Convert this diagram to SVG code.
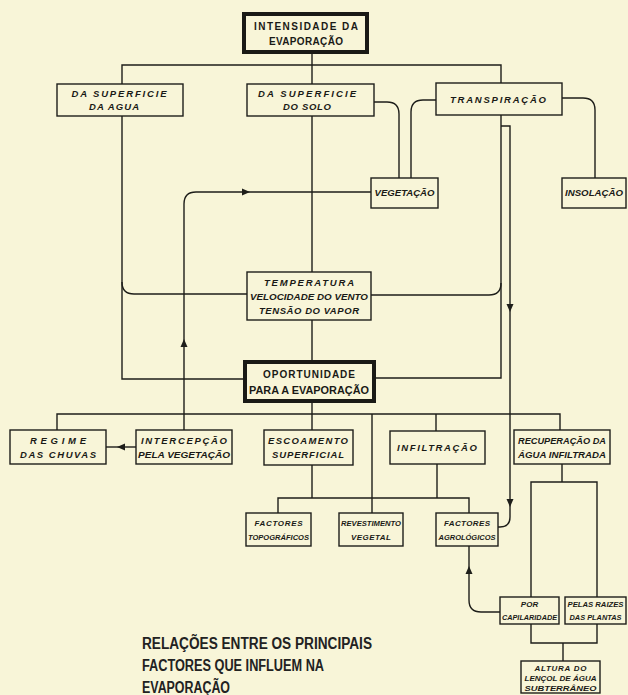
<svg xmlns="http://www.w3.org/2000/svg" xmlns:xlink="http://www.w3.org/1999/xlink" width="628" height="695" viewBox="0 0 628 695">
<style>
.bg{fill:#f8f5d8}
.box{fill:#f8f5d8;stroke:#1e1e1a;stroke-width:1.4}
.thick{fill:#f8f5d8;stroke:#1a1a16;stroke-width:4}
.ln{fill:none;stroke:#1e1e1a;stroke-width:1.4}
.ah{fill:#1e1e1a}
.t{font-family:"Liberation Sans",Arial,sans-serif;font-weight:bold;font-style:italic;font-size:9.5px;fill:#1a1a16;text-anchor:middle}
.s{font-size:8px}
.tb{font-family:"Liberation Sans",Arial,sans-serif;font-weight:bold;font-size:10px;fill:#1a1a16;text-anchor:middle}
.cap{font-family:"Liberation Sans",Arial,sans-serif;font-weight:bold;font-size:16px;fill:#222}
</style>
<defs>
<path id="ah" d="M0,0 L-8,-3.5 L-8,3.5 Z"/>
</defs>
<rect class="bg" x="0" y="0" width="628" height="695"/>

<g id="connectors">
<path class="ln" d="M312,53 V272"/>
<path class="ln" d="M312,320 V362"/>
<path class="ln" d="M312,401 V430"/>
<path class="ln" d="M122,84 V65 H501 V83"/>
<path class="ln" d="M122,116 V379 H245"/>
<path class="ln" d="M122,282 Q122,294 134,294 H247"/>
<path class="ln" d="M501,115 V378 H374"/>
<path class="ln" d="M501,283 Q501,295 489,295 H371"/>
<path class="ln" d="M374,102 H387 Q399,102 399,114 V178"/>
<path class="ln" d="M436,100 H423 Q411,100 411,112 V178"/>
<path class="ln" d="M562,98 H583 Q595,98 595,110 V178"/>
<path class="ln" d="M501,126 H510 V517 Q510,527 500,527 H498"/>
<path class="ln" d="M184,430 V204 Q184,192 196,192 H371"/>
<path class="ln" d="M136,447 H106"/>
<path class="ln" d="M57,430 V414 H560 V430"/>
<path class="ln" d="M372,414 V513"/>
<path class="ln" d="M436,414 V431"/>
<path class="ln" d="M312,465 V498"/>
<path class="ln" d="M437,464 V498"/>
<path class="ln" d="M278,513 V498 H469 V513"/>
<path class="ln" d="M500,612 H481 Q469,612 469,600 V546"/>
<path class="ln" d="M562,464 V482"/>
<path class="ln" d="M531,597 V482 H597 V597"/>
<path class="ln" d="M531,624 V643 H597 V624"/>
<path class="ln" d="M563,643 V661"/>
<use xlink:href="#ah" class="ah" transform="translate(250,192)"/>
<use xlink:href="#ah" class="ah" transform="translate(184,339) rotate(-90)"/>
<use xlink:href="#ah" class="ah" transform="translate(510,312) rotate(90)"/>
<use xlink:href="#ah" class="ah" transform="translate(117,447) rotate(180)"/>
<use xlink:href="#ah" class="ah" transform="translate(510,507) rotate(90)"/>
<use xlink:href="#ah" class="ah" transform="translate(469,566) rotate(-90)"/>
</g>

<g id="intensidade">
<rect class="thick" x="244" y="14" width="123" height="38"/>
<text class="tb" x="306" y="30" textLength="104" lengthAdjust="spacing">INTENSIDADE DA</text>
<text class="tb" x="306" y="45" textLength="74" lengthAdjust="spacing">EVAPORAÇÃO</text>
</g>
<g id="sup-agua">
<rect class="box" x="57" y="84" width="126" height="32"/>
<text class="t" x="119" y="97" textLength="95" lengthAdjust="spacing">DA SUPERFICIE</text>
<text class="t" x="114" y="110" textLength="50" lengthAdjust="spacing">DA AGUA</text>
</g>
<g id="sup-solo">
<rect class="box" x="247" y="84" width="127" height="32"/>
<text class="t" x="307" y="97" textLength="98" lengthAdjust="spacing">DA SUPERFICIE</text>
<text class="t" x="307" y="110" textLength="48" lengthAdjust="spacing">DO SOLO</text>
</g>
<g id="transpiracao">
<rect class="box" x="436" y="83" width="126" height="32"/>
<text class="t" x="498" y="103" textLength="96" lengthAdjust="spacing">TRANSPIRAÇÃO</text>
</g>
<g id="vegetacao">
<rect class="box" x="371" y="178" width="67" height="30"/>
<text class="t" x="404.5" y="196" textLength="60" lengthAdjust="spacingAndGlyphs">VEGETAÇÃO</text>
</g>
<g id="insolacao">
<rect class="box" x="562" y="178" width="64" height="30"/>
<text class="t" x="594" y="196" textLength="58" lengthAdjust="spacingAndGlyphs">INSOLAÇÃO</text>
</g>
<g id="temperatura">
<rect class="box" x="247" y="272" width="124" height="48"/>
<text class="t" x="309" y="286" textLength="90" lengthAdjust="spacing">TEMPERATURA</text>
<text class="t" x="309" y="300" textLength="118" lengthAdjust="spacingAndGlyphs">VELOCIDADE DO VENTO</text>
<text class="t" x="309" y="314" textLength="100" lengthAdjust="spacing">TENSÃO DO VAPOR</text>
</g>
<g id="oportunidade">
<rect class="thick" x="245" y="362" width="129" height="39"/>
<text class="tb" x="309" y="378" textLength="92" lengthAdjust="spacing">OPORTUNIDADE</text>
<text class="tb" x="309" y="394" textLength="120" lengthAdjust="spacingAndGlyphs">PARA A EVAPORAÇÃO</text>
</g>
<g id="regime">
<rect class="box" x="10" y="430" width="96" height="34"/>
<text class="t" x="58" y="444" textLength="56" lengthAdjust="spacing">REGIME</text>
<text class="t" x="58" y="458" textLength="76" lengthAdjust="spacing">DAS CHUVAS</text>
</g>
<g id="intercepcao">
<rect class="box" x="136" y="430" width="96" height="34"/>
<text class="t" x="184" y="444" textLength="86" lengthAdjust="spacing">INTERCEPÇÃO</text>
<text class="t" x="184" y="458" textLength="92" lengthAdjust="spacingAndGlyphs">PELA VEGETAÇÃO</text>
</g>
<g id="escoamento">
<rect class="box" x="264" y="430" width="89" height="35"/>
<text class="t" x="308" y="444" textLength="80" lengthAdjust="spacing">ESCOAMENTO</text>
<text class="t" x="308" y="458" textLength="72" lengthAdjust="spacing">SUPERFICIAL</text>
</g>
<g id="infiltracao">
<rect class="box" x="390" y="431" width="95" height="33"/>
<text class="t" x="437" y="451" textLength="80" lengthAdjust="spacing">INFILTRAÇÃO</text>
</g>
<g id="recuperacao">
<rect class="box" x="514" y="430" width="96" height="34"/>
<text class="t" x="562" y="444" textLength="88" lengthAdjust="spacingAndGlyphs">RECUPERAÇÃO DA</text>
<text class="t" x="562" y="458" textLength="88" lengthAdjust="spacingAndGlyphs">ÁGUA INFILTRADA</text>
</g>
<g id="topograficos">
<rect class="box" x="246" y="513" width="65" height="33"/>
<text class="t s" x="278.5" y="526" textLength="48" lengthAdjust="spacing">FACTORES</text>
<text class="t s" x="278.5" y="540" textLength="61" lengthAdjust="spacingAndGlyphs">TOPOGRÁFICOS</text>
</g>
<g id="revestimento">
<rect class="box" x="339" y="513" width="64" height="33"/>
<text class="t s" x="371" y="526" textLength="60" lengthAdjust="spacingAndGlyphs">REVESTIMENTO</text>
<text class="t s" x="371" y="540" textLength="40" lengthAdjust="spacing">VEGETAL</text>
</g>
<g id="agrologicos">
<rect class="box" x="436" y="513" width="62" height="33"/>
<text class="t s" x="467" y="526" textLength="46" lengthAdjust="spacing">FACTORES</text>
<text class="t s" x="467" y="540" textLength="57" lengthAdjust="spacingAndGlyphs">AGROLÓGICOS</text>
</g>
<g id="capilaridade">
<rect class="box" x="500" y="597" width="59" height="27"/>
<text class="t s" x="529.5" y="607">POR</text>
<text class="t s" x="529.5" y="620" textLength="55" lengthAdjust="spacingAndGlyphs">CAPILARIDADE</text>
</g>
<g id="raizes">
<rect class="box" x="565" y="597" width="61" height="27"/>
<text class="t s" x="595.5" y="607" textLength="56" lengthAdjust="spacingAndGlyphs">PELAS RAIZES</text>
<text class="t s" x="595.5" y="620" textLength="52" lengthAdjust="spacingAndGlyphs">DAS PLANTAS</text>
</g>
<g id="altura">
<rect class="box" x="521" y="661" width="79" height="32"/>
<text class="t s" x="560.5" y="671" textLength="52" lengthAdjust="spacing">ALTURA DO</text>
<text class="t s" x="560.5" y="681" textLength="72" lengthAdjust="spacingAndGlyphs">LENÇOL DE ÁGUA</text>
<text class="t s" x="560.5" y="691" textLength="72" lengthAdjust="spacingAndGlyphs">SUBTERRÂNEO</text>
</g>
<g id="caption">
<text class="cap" x="142" y="649" textLength="230" lengthAdjust="spacingAndGlyphs">RELAÇÕES ENTRE OS PRINCIPAIS</text>
<text class="cap" x="142" y="671" textLength="182" lengthAdjust="spacingAndGlyphs">FACTORES QUE INFLUEM NA</text>
<text class="cap" x="142" y="693" textLength="88" lengthAdjust="spacingAndGlyphs">EVAPORAÇÃO</text>
</g>
</svg>
